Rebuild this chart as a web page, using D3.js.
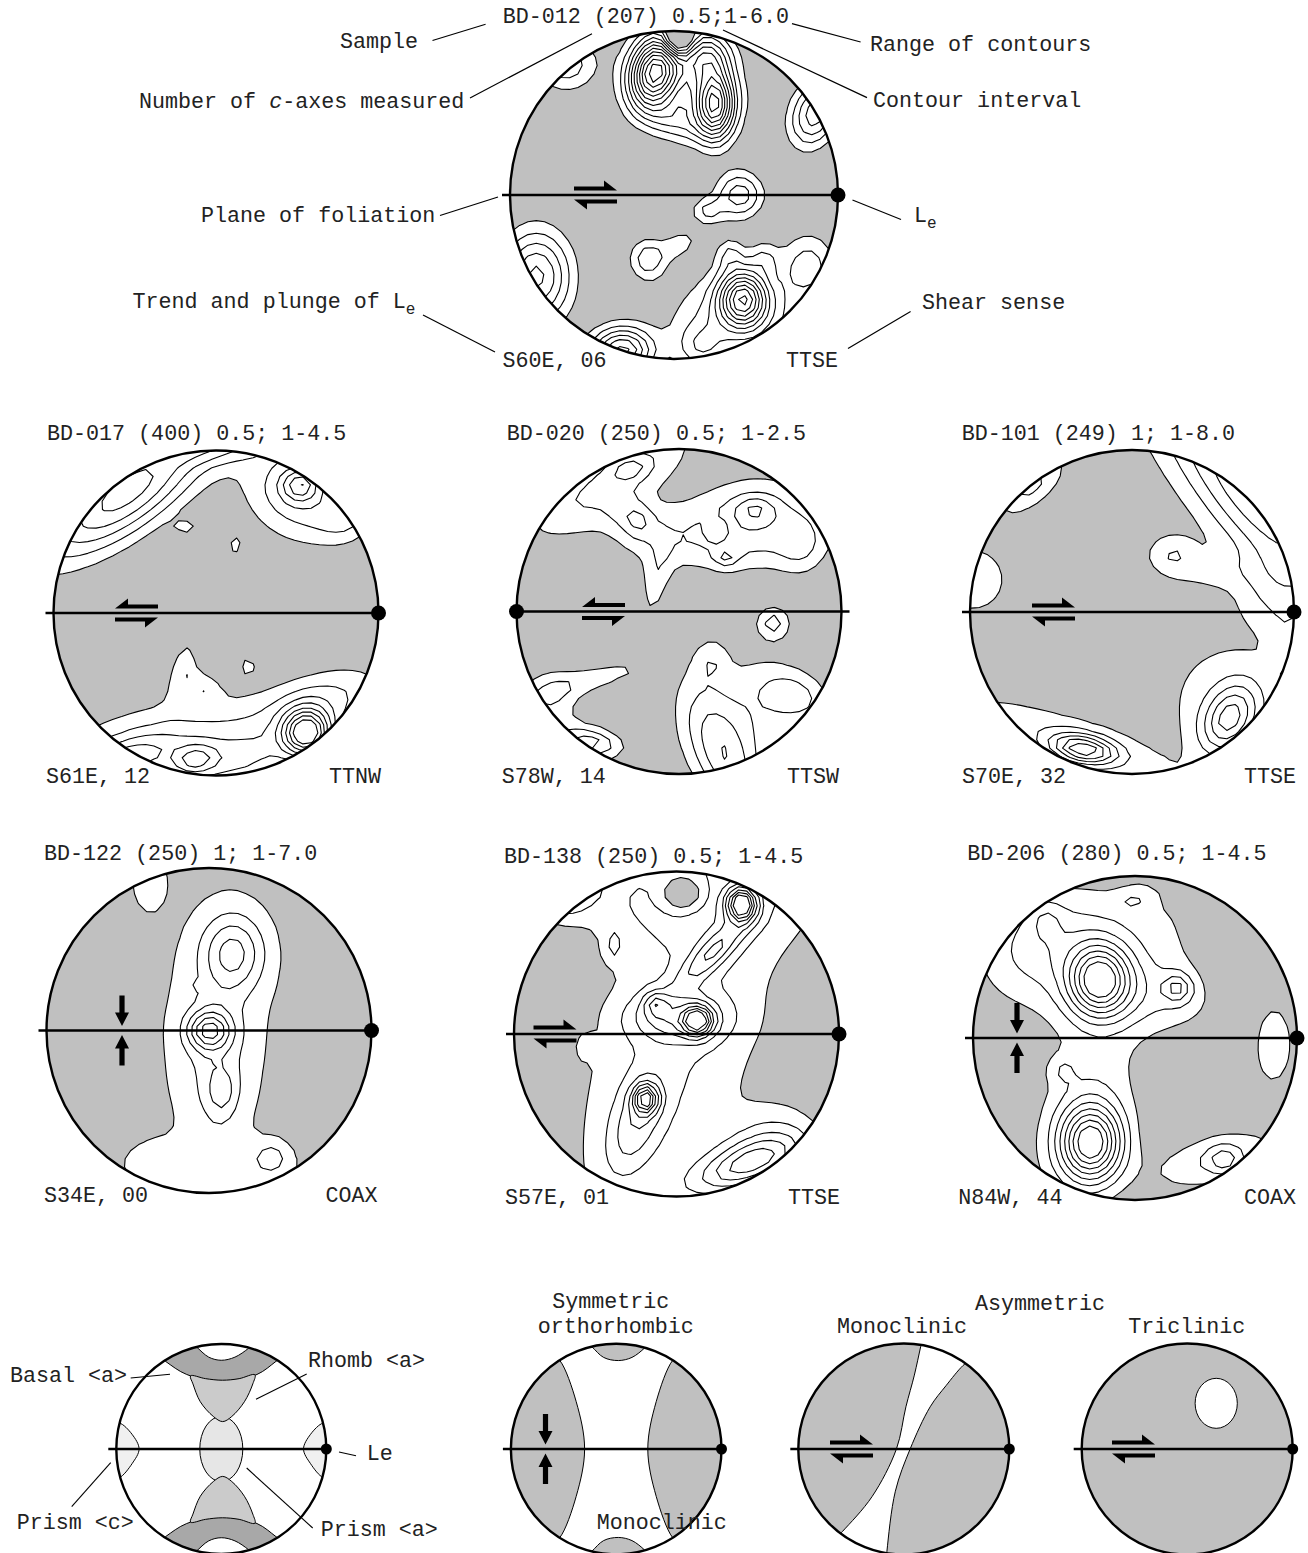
<!DOCTYPE html>
<html>
<head>
<meta charset="utf-8">
<script src="https://cdn.jsdelivr.net/npm/d3@7"></script>
<style>
body { margin: 0; background: #fff; }
text { font-family: "Liberation Mono", "Courier New", monospace; font-size: 21.7px; fill: #222; }
</style>
</head>
<body>
<div id="chart"></div>
<script>
// sample data
const sampleIds = ["BD-012", "BD-017", "BD-020", "BD-101", "BD-122", "BD-138", "BD-206"];
const cAxisCounts = [207, 400, 250, 249, 250, 250, 280];
const intervalLabels = ["0.5;1-6.0", "0.5; 1-4.5", "0.5; 1-2.5", "1; 1-8.0", "1; 1-7.0", "0.5; 1-4.5", "0.5; 1-4.5"];
const contourSteps = [0.5, 0.5, 0.5, 1, 1, 0.5, 0.5];
const contourRanges = [[1, 6.0], [1, 4.5], [1, 2.5], [1, 8.0], [1, 7.0], [1, 4.5], [1, 4.5]];
const lineations = ["S60E, 06", "S61E, 12", "S78W, 14", "S70E, 32", "S34E, 00", "S57E, 01", "N84W, 44"];
const shearSenses = ["TTSE", "TTNW", "TTSW", "TTSE", "COAX", "TTSE", "COAX"];
const leSides = ["E", "E", "W", "E", "E", "E", "E"];
const baseDensity = [0.35, 0.35, 0.45, 0.35, 0.35, 0.45, 0.45];

// density maxima: [x, y (down), value, spreadX, spreadY, rotation deg]
const peaksBD012 = [
  [-0.12, -0.75, 5.0, 0.10, 0.15, 15], [0.25, -0.55, 4.5, 0.08, 0.14, 0],
  [0.20, -0.85, 2.2, 0.10, 0.10, 0], [0.07, -0.68, 1.5, 0.25, 0.20, 30],
  [0.00, -0.45, 1.0, 0.15, 0.08, 20], [0.03, -0.95, -3.0, 0.06, 0.07, 0],
  [-0.66, -0.80, 1.5, 0.13, 0.12, 0], [0.86, -0.50, 2.5, 0.10, 0.15, 20],
  [0.40, 0.00, 2.0, 0.10, 0.10, 0], [0.20, 0.10, 1.2, 0.07, 0.06, 0],
  [-0.16, 0.39, 1.5, 0.08, 0.09, 0], [0.03, 0.30, 1.0, 0.08, 0.05, -30],
  [-0.84, 0.50, 2.8, 0.15, 0.20, 0], [-0.32, 0.95, 3.3, 0.13, 0.10, 0],
  [0.42, 0.63, 4.2, 0.10, 0.12, 0], [0.40, 0.75, 1.4, 0.30, 0.20, 0],
  [0.16, 0.93, 1.1, 0.10, 0.10, 0], [0.34, 0.36, 1.0, 0.06, 0.07, 0],
  [0.55, 0.38, 0.9, 0.06, 0.07, 0], [0.82, 0.42, 1.3, 0.12, 0.14, 0]
];
const peaksBD017 = [
  [-0.55, -0.75, 2.9, 0.45, 0.17, -36], [0.50, -0.72, 1.5, 0.26, 0.20, 30],
  [0.52, -0.79, 1.8, 0.08, 0.07, 0], [0.80, -0.58, 0.8, 0.12, 0.10, 0],
  [0.00, -1.02, 1.0, 0.25, 0.07, 0],
  [-0.18, -0.52, 0.7, 0.06, 0.04, 0], [0.11, -0.41, 0.8, 0.04, 0.06, 20],
  [0.20, 0.32, 0.8, 0.035, 0.06, 0], [-0.35, 0.82, 1.3, 0.55, 0.20, -12],
  [-0.20, 0.33, 0.9, 0.06, 0.14, 15], [-0.08, 0.45, 0.8, 0.08, 0.06, 30],
  [0.65, 0.55, 1.2, 0.30, 0.14, -20], [0.56, 0.74, 4.0, 0.10, 0.10, 0],
  [-0.13, 0.90, 1.4, 0.09, 0.06, -10], [-0.60, 0.92, 1.5, 0.22, 0.08, -20],
  [0.15, 0.92, 1.2, 0.30, 0.12, -10]
];
const peaksBD020 = [
  [-0.42, -0.80, 1.2, 0.40, 0.13, -30], [-0.30, -0.88, 0.8, 0.08, 0.05, -15],
  [-0.35, -0.62, 0.6, 0.08, 0.08, 0],
  [-0.24, -0.55, 1.0, 0.07, 0.08, 0], [0.15, -0.45, 0.85, 0.45, 0.15, 0],
  [-0.14, -0.20, 0.75, 0.06, 0.20, 10], [0.24, -0.50, -0.8, 0.05, 0.05, 0],
  [0.29, -0.33, 0.9, 0.05, 0.04, 0], [0.47, -0.63, 1.0, 0.09, 0.06, 0],
  [0.50, -0.60, 0.9, 0.30, 0.20, 0], [0.75, -0.40, 0.7, 0.10, 0.12, 0],
  [0.58, 0.07, 1.2, 0.07, 0.07, 0],
  [-0.55, 0.80, 1.3, 0.12, 0.05, 10], [-0.55, 0.42, 0.8, 0.30, 0.06, -15],
  [-0.80, 0.55, 0.8, 0.12, 0.15, 0], [-0.60, 0.85, 0.6, 0.20, 0.15, 0],
  [0.40, 0.65, 0.9, 0.25, 0.30, 30], [0.30, 0.95, 1.5, 0.12, 0.35, -25],
  [0.20, 0.30, 0.7, 0.07, 0.10, 0], [0.72, 0.52, 1.0, 0.15, 0.10, 20]
];
const peaksBD101 = [
  [0.72, -0.72, 4.3, 0.60, 0.18, 51], [0.85, -0.10, 1.2, 0.15, 0.15, 0],
  [0.95, 0.15, 0.8, 0.08, 0.12, 0], [0.25, -0.36, 1.6, 0.10, 0.08, 0],
  [0.50, -0.25, 0.9, 0.20, 0.08, 0], [-0.62, -0.78, 2.0, 0.15, 0.07, -40],
  [-0.98, -0.20, 1.3, 0.15, 0.15, 0], [0.60, 0.66, 4.2, 0.10, 0.15, 30],
  [0.60, 0.55, 1.3, 0.25, 0.25, 0], [-0.30, 0.85, 5.5, 0.14, 0.06, 10],
  [-0.40, 0.78, 1.4, 0.50, 0.10, 18]
];
const peaksBD122 = [
  [0.04, -0.05, 1.0, 0.30, 0.65, 5], [0.05, 0.85, 1.0, 0.40, 0.12, 0],
  [0.15, -0.48, 3.3, 0.13, 0.16, 0], [0.00, 0.00, 4.5, 0.09, 0.08, 0],
  [0.05, 0.20, 1.3, 0.13, 0.35, 0], [0.08, 0.38, 1.6, 0.06, 0.10, 0],
  [0.39, 0.78, 1.5, 0.07, 0.07, 0], [-0.36, 0.80, 0.5, 0.12, 0.09, 0],
  [-0.08, -0.27, 0.5, 0.03, 0.02, 0], [-0.37, -0.92, 1.2, 0.08, 0.14, 0]
];
const peaksBD138 = [
  [0.00, 0.05, 1.1, 0.90, 0.38, -70], [0.00, -0.85, 0.9, 0.60, 0.22, 0],
  [0.04, -0.86, -1.5, 0.10, 0.08, 0], [0.40, -0.80, 3.9, 0.06, 0.07, 0],
  [0.22, -0.50, 1.6, 0.20, 0.06, -45], [0.13, -0.08, 3.2, 0.06, 0.06, 0],
  [-0.13, -0.19, 1.2, 0.05, 0.05, 0], [0.00, -0.10, 1.5, 0.20, 0.10, 0],
  [-0.19, 0.40, 3.0, 0.05, 0.06, 0], [-0.25, 0.55, 1.2, 0.10, 0.22, 20],
  [0.45, 0.80, 2.2, 0.25, 0.09, -20], [0.55, 0.65, 0.9, 0.22, 0.14, -30],
  [-0.65, -0.85, 1.2, 0.12, 0.08, -30], [-0.56, 0.08, 0.7, 0.03, 0.05, 0],
  [-0.39, -0.54, 0.7, 0.04, 0.07, 0]
];
const peaksBD206 = [
  [-0.20, -0.55, 0.85, 0.50, 0.30, -15], [-0.60, -0.60, 0.8, 0.25, 0.20, -30],
  [0.20, -0.25, 0.75, 0.35, 0.15, 0], [0.62, -0.55, -0.8, 0.14, 0.35, 0],
  [0.85, 0.05, 0.95, 0.10, 0.20, 0], [-0.22, -0.36, 3.8, 0.13, 0.15, 0],
  [0.26, -0.31, 1.3, 0.06, 0.06, 0], [-0.27, 0.65, 4.0, 0.13, 0.16, 0],
  [-0.30, 0.45, 0.9, 0.22, 0.45, 15], [-0.45, 0.20, 0.6, 0.06, 0.06, 0],
  [0.00, -0.86, 0.6, 0.08, 0.05, -15], [-0.55, -0.74, 0.6, 0.07, 0.08, 0],
  [0.55, 0.75, 1.0, 0.07, 0.06, 0], [0.50, 0.75, 1.0, 0.30, 0.12, -15]
];
const netPeaks = [peaksBD012, peaksBD017, peaksBD020, peaksBD101, peaksBD122, peaksBD138, peaksBD206];

// top-net callouts
const calloutTexts = ["Sample", "Number of |c|-axes measured", "Range of contours", "Contour interval",
  "Plane of foliation", "L_e", "Trend and plunge of L_e", "Shear sense"];

// slip-system sketch and symmetry sketches (unit-circle outlines)
const slipLabels = ["Basal <a>", "Rhomb <a>", "Le", "Prism <c>", "Prism <a>"];
const symmetryTitles = ["Symmetric", "orthorhombic", "Asymmetric", "Monoclinic", "Triclinic", "Monoclinic"];
const basalCapEdge = [[-0.3, -1.02], [-0.24, -0.975], [-0.12, -0.875], [0, -0.845], [0.13, -0.875], [0.26, -0.96], [0.32, -1.02]];
const basalBandEdge = [[-0.64, -0.92], [-0.53, -0.834], [-0.33, -0.71], [0.01, -0.64], [0.34, -0.71], [0.52, -0.834], [0.63, -0.92]];
const rhombOutline = [[-0.293, -0.697], [-0.27, -0.62], [-0.2, -0.45], [-0.076, -0.31], [0.013, -0.261], [0.1, -0.31],
  [0.22, -0.45], [0.3, -0.62], [0.32, -0.707], [0.17, -0.67], [0.01, -0.655], [-0.15, -0.67]];
const prismAEllipse = [0, 0, 0.205, 0.31];
const prismCEdge = [[-1.02, -0.22], [-0.968, -0.245], [-0.85, -0.14], [-0.783, 0], [-0.85, 0.14], [-0.968, 0.27], [-1.02, 0.26]];
const orthoLuneEdge = [[-0.62, -0.9], [-0.535, -0.84], [-0.38, -0.45], [-0.3, 0], [-0.38, 0.45], [-0.535, 0.84], [-0.62, 0.9]];
const orthoCapEdge = [[-0.3, -1.03], [-0.23, -0.97], [-0.12, -0.87], [0.02, -0.84], [0.15, -0.87], [0.27, -0.96], [0.33, -1.03]];
const monoLeftEdge = [[0.19, -1.1], [0.16, -0.97], [0.1, -0.7], [0.02, -0.4], [-0.07, 0], [-0.3, 0.45], [-0.58, 0.78], [-0.66, 0.86]];
const monoRightEdge = [[0.64, -0.85], [0.56, -0.79], [0.4, -0.6], [0.25, -0.4], [0.06, 0], [-0.08, 0.4], [-0.16, 0.97], [-0.17, 1.1]];
const triclinicHole = [0.275, -0.433, 0.2, 0.237];

const W = 1308, H = 1553;
const GRAY = "#c0c0c0";
const svg = d3.select("#chart").append("svg").attr("width", W).attr("height", H);

const netLayout = [
  { cx: 674, cy: 195, r: 164, tx: 502.7, ty: 23, fy: 367, fl: 502.5, fr: 838, ax: -100 },
  { cx: 216, cy: 613, r: 162.5, tx: 47, ty: 440, fy: 783, fl: 46, fr: 381, ax: -101 },
  { cx: 679, cy: 611.5, r: 162.5, tx: 506.7, ty: 440, fy: 783, fl: 501.7, fr: 839, ax: -97 },
  { cx: 1132, cy: 612, r: 162, tx: 961.7, ty: 440, fy: 783, fl: 962, fr: 1296, ax: -100 },
  { cx: 209, cy: 1030.5, r: 162.5, tx: 44, ty: 860, fy: 1202, fl: 44, fr: 377.5, ax: -87 },
  { cx: 676.5, cy: 1034, r: 162.5, tx: 504, ty: 863, fy: 1203.5, fl: 505, fr: 840, ax: -143 },
  { cx: 1135, cy: 1038, r: 162, tx: 967.3, ty: 860, fy: 1203.5, fl: 958.3, fr: 1296, ax: -118 }
];

function density(peaks, base, u, v) {
  let s = base;
  for (const [pu, pv, a, sx, sy, rot] of peaks) {
    const t = rot * Math.PI / 180, c = Math.cos(t), sn = Math.sin(t);
    const dx = u - pu, dy = v - pv;
    const xr = dx * c + dy * sn, yr = -dx * sn + dy * c;
    s += a * Math.exp(-0.5 * (xr * xr / (sx * sx) + yr * yr / (sy * sy)));
  }
  return s;
}

function harpoon(g, xa, xb, y, barbUp) {
  const th = 2.1, hl = 13, hw = 6, d = Math.sign(xb - xa);
  const pts = barbUp
    ? [[xa, y + th], [xb, y + th], [xb - d * hl, y - th - hw], [xb - d * hl, y - th], [xa, y - th]]
    : [[xa, y - th], [xb, y - th], [xb - d * hl, y + th + hw], [xb - d * hl, y + th], [xa, y + th]];
  g.append("path").attr("d", "M" + pts.join("L") + "Z").attr("fill", "#000");
}

function shearPair(g, x0, y0, upperRight) {
  const L = 43, off = 6.5;
  if (upperRight) {
    harpoon(g, x0, x0 + L, y0 - off, true);
    harpoon(g, x0 + L, x0, y0 + off, false);
  } else {
    harpoon(g, x0 + L, x0, y0 - off, true);
    harpoon(g, x0, x0 + L, y0 + off, false);
  }
}

function coaxPair(g, x, y0) {
  [-1, 1].forEach(s => {
    const tip = y0 + s * 4.5, base = y0 + s * 18, tail = y0 + s * 35;
    const pts = [[x - 2.6, tail], [x - 2.6, base], [x - 7, base], [x, tip], [x + 7, base], [x + 2.6, base], [x + 2.6, tail]];
    g.append("path").attr("d", "M" + pts.join("L") + "Z").attr("fill", "#000");
  });
}

function drawNet(k) {
  const lay = netLayout[k];
  const x = d3.scaleLinear().domain([-1, 1]).range([lay.cx - lay.r, lay.cx + lay.r]);
  const y = d3.scaleLinear().domain([-1, 1]).range([lay.cy - lay.r, lay.cy + lay.r]);
  const g = svg.append("g");
  const clipId = "clip" + k;
  svg.append("clipPath").attr("id", clipId).append("circle").attr("cx", lay.cx).attr("cy", lay.cy).attr("r", lay.r);
  const inner = g.append("g").attr("clip-path", `url(#${clipId})`);
  inner.append("circle").attr("cx", lay.cx).attr("cy", lay.cy).attr("r", lay.r).attr("fill", GRAY);

  const n = 44, Lg = 1.12, step = 2 * Lg / n;
  const values = new Array(n * n);
  for (let j = 0; j < n; j++) for (let i = 0; i < n; i++)
    values[j * n + i] = density(netPeaks[k], baseDensity[k], -Lg + (i + 0.5) * step, -Lg + (j + 0.5) * step);
  const levels = d3.range(contourRanges[k][0], contourRanges[k][1] + 1e-9, contourSteps[k]);
  const contours = d3.contours().size([n, n]).thresholds(levels)(values);
  const path = d3.geoPath(d3.geoTransform({
    point(gx, gy) { this.stream.point(x(-Lg + gx * step), y(-Lg + gy * step)); }
  }));
  inner.selectAll("path.c").data(contours).join("path")
    .attr("d", path)
    .attr("fill", (d, i) => i === 0 ? "#fff" : "none")
    .attr("fill-rule", "evenodd")
    .attr("stroke", "#000").attr("stroke-width", 1.1).attr("stroke-linejoin", "round");

  const east = leSides[k] === "E";
  g.append("line")
    .attr("x1", east ? x(-1) - 8 : x(-1)).attr("x2", east ? x(1) : x(1) + 8)
    .attr("y1", y(0)).attr("y2", y(0)).attr("stroke", "#000").attr("stroke-width", 2.4);
  g.append("circle").attr("cx", lay.cx).attr("cy", lay.cy).attr("r", lay.r)
    .attr("fill", "none").attr("stroke", "#000").attr("stroke-width", 2.4);
  g.append("circle").attr("cx", east ? x(1) : x(-1)).attr("cy", y(0)).attr("r", 7.5).attr("fill", "#000");

  const sense = shearSenses[k];
  if (sense === "COAX") coaxPair(g, lay.cx + lay.ax, y(0));
  else shearPair(g, lay.cx + lay.ax, y(0), sense === "TTSE");

  g.append("text").attr("x", lay.tx).attr("y", lay.ty)
    .text(`${sampleIds[k]} (${cAxisCounts[k]}) ${intervalLabels[k]}`);
  g.append("text").attr("x", lay.fl).attr("y", lay.fy).text(lineations[k]);
  g.append("text").attr("x", lay.fr).attr("y", lay.fy).attr("text-anchor", "end").text(shearSenses[k]);
}

d3.range(sampleIds.length).forEach(drawNet);

// callouts around the first net
const calloutLayout = [
  { x: 418, y: 48, anchor: "end", line: [432.5, 40.5, 485.6, 24.2] },
  { x: 139, y: 108, anchor: "start", line: [470, 98, 592, 33.7] },
  { x: 870, y: 50.5, anchor: "start", line: [792, 23.6, 860.6, 42] },
  { x: 873, y: 107, anchor: "start", line: [723, 30, 867, 97.6] },
  { x: 201, y: 222, anchor: "start", line: [440, 215.5, 498, 197] },
  { x: 914, y: 222, anchor: "start", line: [852.5, 200, 901, 219.5] },
  { x: 132.5, y: 308, anchor: "start", line: [423, 315, 495, 352] },
  { x: 922, y: 309, anchor: "start", line: [910.6, 311.5, 848, 348.5] }
];

function richText(sel, str) {
  // "|x|" italic, "_x" subscript
  const parts = str.split(/(\|[^|]+\||_\w)/).filter(s => s.length);
  parts.forEach(p => {
    if (p.startsWith("|")) sel.append("tspan").attr("font-style", "italic").text(p.slice(1, -1));
    else if (p.startsWith("_")) sel.append("tspan").attr("dy", 6).style("font-size", "16px").text(p.slice(1));
    else sel.append("tspan").text(p);
  });
}

calloutTexts.forEach((t, i) => {
  const c = calloutLayout[i];
  const txt = svg.append("text").attr("x", c.x).attr("y", c.y).attr("text-anchor", c.anchor);
  richText(txt, t);
  svg.append("line").attr("x1", c.line[0]).attr("y1", c.line[1]).attr("x2", c.line[2]).attr("y2", c.line[3])
    .attr("stroke", "#000").attr("stroke-width", 1.2);
});

// ---- bottom row sketches ----
function unitScales(cx, cy, r) {
  return [d3.scaleLinear().domain([-1, 1]).range([cx - r, cx + r]),
          d3.scaleLinear().domain([-1, 1]).range([cy - r, cy + r])];
}
function edgeRegion(x, y, edge, outside) {
  const line = d3.line().x(p => x(p[0])).y(p => y(p[1])).curve(d3.curveCatmullRom);
  return line(edge) + outside.map(p => "L" + x(p[0]) + "," + y(p[1])).join("") + "Z";
}
const flipY = pts => pts.map(p => [p[0], -p[1]]);
const flipX = pts => pts.map(p => [-p[0], p[1]]);

function sketchFrame(k, cx, cy, r, fill) {
  const g = svg.append("g");
  svg.append("clipPath").attr("id", "sk" + k).append("circle").attr("cx", cx).attr("cy", cy).attr("r", r);
  const inner = g.append("g").attr("clip-path", `url(#sk${k})`);
  inner.append("circle").attr("cx", cx).attr("cy", cy).attr("r", r).attr("fill", fill);
  return [g, inner];
}
function sketchFinish(g, cx, cy, r) {
  g.append("line").attr("x1", cx - r - 8).attr("x2", cx + r).attr("y1", cy).attr("y2", cy)
    .attr("stroke", "#000").attr("stroke-width", 2.4);
  g.append("circle").attr("cx", cx).attr("cy", cy).attr("r", r).attr("fill", "none")
    .attr("stroke", "#000").attr("stroke-width", 2.4);
  g.append("circle").attr("cx", cx + r).attr("cy", cy).attr("r", 5.5).attr("fill", "#000");
}

// slip systems
(function () {
  const cx = 221.3, cy = 1449, r = 105;
  const [x, y] = unitScales(cx, cy, r);
  const [g, inner] = sketchFrame(0, cx, cy, r, "#fff");
  const st = s => s.attr("stroke", "#000").attr("stroke-width", 1);
  [1, -1].forEach(sgn => {
    const f = sgn === 1 ? (p => p) : flipY;
    st(inner.append("path").attr("fill", "#a8a8a8")
      .attr("d", edgeRegion(x, y, f(basalBandEdge), f([[0.8, -1.3], [-0.8, -1.3]]))));
    st(inner.append("path").attr("fill", "#fff")
      .attr("d", edgeRegion(x, y, f(basalCapEdge), f([[0.4, -1.3], [-0.4, -1.3]]))));
  });
  st(inner.append("ellipse").attr("cx", x(prismAEllipse[0])).attr("cy", y(prismAEllipse[1]))
    .attr("rx", prismAEllipse[2] * r).attr("ry", prismAEllipse[3] * r).attr("fill", "#e6e6e6"));
  const closed = d3.line().x(p => x(p[0])).y(p => y(p[1])).curve(d3.curveCatmullRomClosed.alpha(0.5));
  st(inner.append("path").attr("fill", "#cbcbcb").attr("d", closed(rhombOutline)));
  st(inner.append("path").attr("fill", "#cbcbcb").attr("d", closed(flipY(rhombOutline))));
  st(inner.append("path").attr("fill", "#f0f0f0").attr("d", edgeRegion(x, y, prismCEdge, [[-1.3, 0.3], [-1.3, -0.3]])));
  st(inner.append("path").attr("fill", "#f0f0f0").attr("d", edgeRegion(x, y, flipX(prismCEdge), [[1.3, 0.3], [1.3, -0.3]])));
  sketchFinish(g, cx, cy, r);

  const labelLayout = [
    { x: 10, y: 1381.7, line: [130.7, 1378, 170, 1374.3] },
    { x: 308, y: 1367, line: [306.7, 1374, 256, 1399.3] },
    { x: 366.7, y: 1460, line: [339, 1452, 356, 1455.7] },
    { x: 16.7, y: 1529, line: [71.7, 1506.7, 110.7, 1462.7] },
    { x: 320.7, y: 1536, line: [246.7, 1468, 312.7, 1528] }
  ];
  slipLabels.forEach((t, i) => {
    const c = labelLayout[i];
    svg.append("text").attr("x", c.x).attr("y", c.y).text(t);
    svg.append("line").attr("x1", c.line[0]).attr("y1", c.line[1]).attr("x2", c.line[2]).attr("y2", c.line[3])
      .attr("stroke", "#000").attr("stroke-width", 1.1);
  });
})();

// symmetric orthorhombic
(function () {
  const cx = 616.2, cy = 1449, r = 105.3;
  const [x, y] = unitScales(cx, cy, r);
  const [g, inner] = sketchFrame(1, cx, cy, r, "#fff");
  const st = s => s.attr("stroke", "#000").attr("stroke-width", 1).attr("fill", GRAY);
  st(inner.append("path").attr("d", edgeRegion(x, y, orthoLuneEdge, [[-1.3, 1.3], [-1.3, -1.3]])));
  st(inner.append("path").attr("d", edgeRegion(x, y, flipX(orthoLuneEdge), [[1.3, 1.3], [1.3, -1.3]])));
  st(inner.append("path").attr("d", edgeRegion(x, y, orthoCapEdge, [[0.4, -1.3], [-0.4, -1.3]])));
  st(inner.append("path").attr("d", edgeRegion(x, y, flipY(orthoCapEdge), [[0.4, 1.3], [-0.4, 1.3]])));
  sketchFinish(g, cx, cy, r);
  coaxPair(g, 545.5, cy);
})();

// monoclinic
(function () {
  const cx = 903.8, cy = 1449, r = 105.5;
  const [x, y] = unitScales(cx, cy, r);
  const [g, inner] = sketchFrame(2, cx, cy, r, GRAY);
  const line = d3.line().x(p => x(p[0])).y(p => y(p[1])).curve(d3.curveCatmullRom);
  const d = line(monoLeftEdge) + "L" + line(monoRightEdge.slice().reverse()).slice(1) + "Z";
  inner.append("path").attr("d", d).attr("fill", "#fff").attr("stroke", "#000").attr("stroke-width", 1);
  sketchFinish(g, cx, cy, r);
  shearPair(g, 830, cy, true);
})();

// triclinic
(function () {
  const cx = 1187.2, cy = 1449, r = 105.5;
  const [x, y] = unitScales(cx, cy, r);
  const [g, inner] = sketchFrame(3, cx, cy, r, GRAY);
  inner.append("ellipse").attr("cx", x(triclinicHole[0])).attr("cy", y(triclinicHole[1]))
    .attr("rx", triclinicHole[2] * r).attr("ry", triclinicHole[3] * r)
    .attr("fill", "#fff").attr("stroke", "#000").attr("stroke-width", 1);
  sketchFinish(g, cx, cy, r);
  shearPair(g, 1112, cy, true);
})();

const symLayout = [
  { x: 610.8, y: 1308, anchor: "middle" }, { x: 615.8, y: 1333, anchor: "middle" },
  { x: 1040, y: 1310, anchor: "middle" }, { x: 902, y: 1333, anchor: "middle" },
  { x: 1186.7, y: 1333, anchor: "middle" }, { x: 596.7, y: 1529, anchor: "start" }
];
symmetryTitles.forEach((t, i) => {
  const c = symLayout[i];
  svg.append("text").attr("x", c.x).attr("y", c.y).attr("text-anchor", c.anchor).text(t);
});
</script>
</body>
</html>
